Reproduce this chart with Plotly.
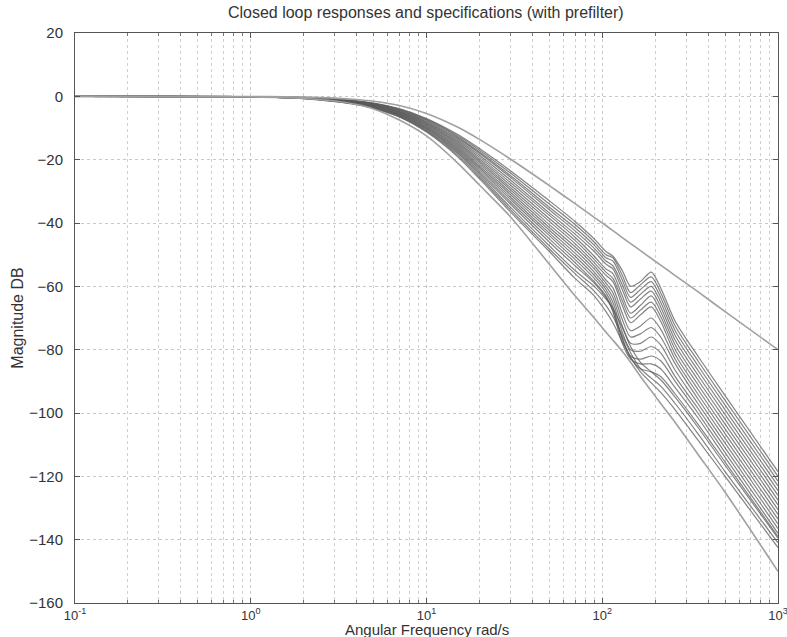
import plotly.graph_objects as go

W = [0.1, 1, 2, 3, 4, 5, 7, 10, 15, 20, 30, 50, 70, 90, 105, 115, 130, 145, 165, 190, 215, 260, 350, 500, 1000]

# Specification bounds (dB)
upper_bound = [0, -0.06, -0.25, -0.57, -1.0, -1.55, -2.9, -5.4, -9.7, -13.6, -19.8, -28.2, -33.9, -38.2, -40.8, -42.4, -44.6, -46.5, -48.7, -51.2, -53.3, -56.6, -61.7, -68.0, -80.0]
lower_bound = [0, -0.2, -0.7, -1.5, -2.6, -4.0, -7.5, -12.5, -21.0, -28.0, -38.0, -53.0, -63.0, -70.0, -74.5, -77.0, -80.5, -84.0, -88.5, -93.0, -97.0, -103.0, -113.0, -125.0, -150.0]

# Closed-loop responses (dB)
U1 = [0, -0.08, -0.35, -0.8, -1.4, -2.1, -3.9, -7.0, -12.0, -16.5, -23.5, -33.0, -39.5, -45.0, -49.0, -50.5, -55.0, -60.0, -58.5, -55.5, -60.5, -71.0, -82.0, -94.5, -118.5]
U2 = [0, -0.08, -0.37, -0.85, -1.5, -2.2, -4.0, -7.2, -12.4, -17.0, -24.2, -34.0, -40.5, -46.0, -50.0, -51.0, -56.5, -62.0, -59.5, -57.0, -62.0, -72.5, -83.5, -96.0, -120.0]
U3 = [0, -0.09, -0.4, -0.9, -1.55, -2.3, -4.2, -7.5, -12.8, -17.6, -25.0, -35.0, -41.5, -47.0, -51.0, -52.0, -58.0, -63.5, -61.0, -58.5, -63.5, -74.0, -85.0, -97.5, -121.5]
U4 = [0, -0.09, -0.42, -0.95, -1.6, -2.4, -4.4, -7.7, -13.2, -18.0, -25.6, -35.8, -42.5, -48.0, -52.0, -53.5, -59.5, -65.0, -62.5, -60.0, -65.0, -75.5, -86.5, -99.0, -123.0]
U5 = [0, -0.1, -0.44, -1.0, -1.7, -2.5, -4.5, -8.0, -13.6, -18.6, -26.4, -36.8, -43.5, -49.0, -53.0, -54.5, -61.0, -66.5, -64.0, -61.5, -66.5, -77.0, -88.0, -100.5, -124.5]
U6 = [0, -0.1, -0.46, -1.05, -1.75, -2.6, -4.7, -8.2, -14.0, -19.2, -27.2, -37.6, -44.5, -50.5, -54.5, -56.0, -63.0, -68.5, -66.0, -63.0, -68.0, -78.5, -89.5, -102.0, -126.0]
U7 = [0, -0.1, -0.48, -1.1, -1.85, -2.7, -4.9, -8.5, -14.4, -19.8, -28.0, -38.6, -45.5, -51.5, -55.5, -57.5, -64.5, -70.0, -67.5, -65.0, -69.5, -80.0, -91.0, -103.5, -127.5]
U8 = [0, -0.11, -0.5, -1.15, -1.9, -2.8, -5.0, -8.7, -14.8, -20.3, -28.8, -39.5, -46.5, -52.5, -56.5, -58.5, -66.0, -71.5, -69.0, -66.5, -71.0, -81.5, -92.5, -105.0, -129.0]
M1 = [0, -0.11, -0.52, -1.2, -2.0, -2.9, -5.2, -9.0, -15.2, -20.8, -29.5, -40.5, -47.5, -53.5, -58.0, -60.5, -68.5, -74.0, -72.5, -70.0, -73.5, -83.0, -94.0, -106.5, -130.5]
M2 = [0, -0.12, -0.54, -1.25, -2.05, -3.0, -5.3, -9.2, -15.6, -21.4, -30.3, -41.4, -48.5, -54.5, -59.0, -62.0, -70.5, -76.0, -75.0, -73.0, -76.0, -84.5, -95.5, -108.0, -132.0]
M3 = [0, -0.12, -0.56, -1.3, -2.1, -3.1, -5.5, -9.5, -16.0, -22.0, -31.0, -42.3, -49.5, -55.5, -60.0, -63.5, -72.5, -78.0, -78.0, -76.0, -78.5, -86.5, -97.0, -109.5, -133.5]
M4 = [0, -0.13, -0.58, -1.35, -2.2, -3.2, -5.6, -9.7, -16.4, -22.5, -31.8, -43.2, -50.5, -56.5, -61.0, -65.0, -74.5, -80.0, -80.5, -79.0, -81.0, -88.5, -98.5, -111.0, -135.0]
M5 = [0, -0.13, -0.6, -1.4, -2.25, -3.3, -5.8, -10.0, -16.8, -23.0, -32.5, -44.0, -51.5, -57.5, -62.0, -66.5, -76.5, -82.0, -83.0, -82.0, -83.5, -90.0, -100.0, -112.5, -136.5]
M6 = [0, -0.14, -0.62, -1.45, -2.3, -3.4, -5.9, -10.2, -17.2, -23.6, -33.3, -45.0, -52.5, -58.5, -63.0, -68.0, -78.0, -83.0, -84.5, -84.5, -86.0, -92.0, -101.5, -114.0, -138.0]
M7 = [0, -0.14, -0.64, -1.5, -2.4, -3.5, -6.0, -10.5, -17.6, -24.2, -34.0, -46.0, -53.5, -59.0, -63.5, -67.5, -76.5, -82.5, -86.0, -87.0, -88.5, -94.0, -103.5, -115.5, -139.0]
L1 = [0, -0.15, -0.66, -1.55, -2.5, -3.6, -6.2, -10.8, -18.0, -24.8, -35.0, -47.2, -55.0, -60.0, -64.0, -67.0, -73.0, -79.0, -84.0, -87.0, -89.5, -95.0, -104.5, -116.5, -139.5]
L2 = [0, -0.15, -0.68, -1.6, -2.55, -3.7, -6.4, -11.0, -18.5, -25.4, -35.8, -48.2, -56.0, -61.5, -66.0, -69.5, -75.5, -81.0, -86.0, -89.0, -91.5, -97.0, -106.5, -118.5, -141.0]
L3 = [0, -0.16, -0.7, -1.65, -2.6, -3.8, -6.5, -11.3, -19.0, -26.0, -36.5, -49.0, -57.5, -63.0, -68.0, -71.5, -77.5, -82.5, -87.0, -90.5, -93.5, -99.0, -108.5, -120.0, -142.5]

responses = [U1, U2, U3, U4, U5, U6, U7, U8, M1, M2, M3, M4, M5, M6, M7, L1, L2, L3]

x_tickvals = [0.1, 1, 10, 100, 1000]
x_ticktext = ["10<sup>-1</sup>", "10<sup>0</sup>", "10<sup>1</sup>", "10<sup>2</sup>", "10<sup>3</sup>"]
x_minor = [m * d for d in [0.1, 1, 10, 100] for m in range(2, 10)]
y_tickvals = list(range(-160, 21, 20))

fig = go.Figure()
for r in responses:
    fig.add_trace(go.Scatter(x=W, y=r, mode="lines",
                             line=dict(color="rgba(90,90,90,0.75)", width=1.2, shape="spline", smoothing=0.8),
                             hoverinfo="skip", showlegend=False))
for b in [upper_bound, lower_bound]:
    fig.add_trace(go.Scatter(x=W, y=b, mode="lines",
                             line=dict(color="#a0a0a0", width=1.6, shape="spline", smoothing=0.8),
                             hoverinfo="skip", showlegend=False))

font_family = "Liberation Sans, Arial, sans-serif"
fig.update_layout(
    width=787, height=637,
    margin=dict(l=75, r=9, t=33, b=34),
    paper_bgcolor="white", plot_bgcolor="white",
    font=dict(family=font_family, size=14, color="#333"),
    title=dict(text="Closed loop responses and specifications (with prefilter)", x=0.541, xanchor="center",
               y=0.981, yanchor="middle", font=dict(family=font_family, size=16, color="#333")),
    annotations=[
        dict(text="Angular Frequency rad/s", xref="paper", yref="paper", x=0.5, y=-0.047,
             xanchor="center", yanchor="middle", showarrow=False, font=dict(size=15, color="#333")),
        dict(text="Magnitude DB", xref="paper", yref="paper", x=-0.068, y=0.5, textangle=-90,
             xanchor="right", yanchor="middle", showarrow=False, font=dict(size=16, color="#333")),
    ],
)
fig.update_xaxes(
    type="log", range=[-1, 3], tickvals=x_tickvals, ticktext=x_ticktext, automargin=False,
    ticklabeloverflow="allow",
    showline=True, linecolor="#555", linewidth=1, mirror="allticks", ticks="inside", ticklen=5, tickcolor="#555",
    showgrid=True, gridcolor="#c8c8c8", griddash="dot", gridwidth=1, zeroline=False,
    minor=dict(tickvals=x_minor, ticks="inside", ticklen=3, tickcolor="#777",
               showgrid=True, gridcolor="#d0d0d0", griddash="dot"),
    ticklabelstandoff=0,
    tickfont=dict(size=13),
)
fig.update_yaxes(
    range=[-160, 20], tickvals=y_tickvals, automargin=False,
    showline=True, linecolor="#555", linewidth=1, mirror="allticks", ticks="inside", ticklen=5, tickcolor="#555",
    showgrid=True, gridcolor="#c8c8c8", griddash="dot", gridwidth=1, zeroline=False,
    ticklabelstandoff=8,
    tickfont=dict(size=15),
)
fig.write_html("out.html")
